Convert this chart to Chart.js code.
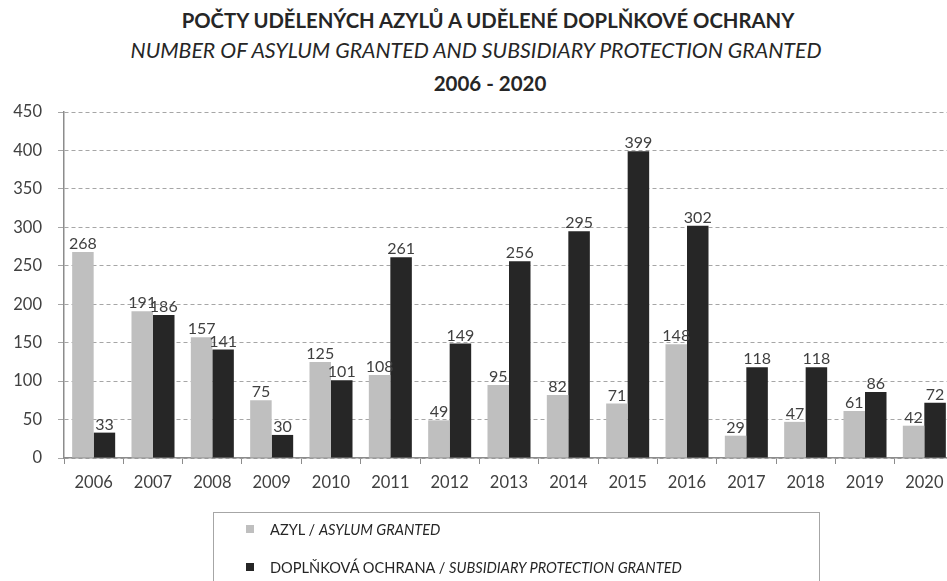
<!DOCTYPE html>
<html>
<head>
<meta charset="utf-8">
<script src="https://cdn.jsdelivr.net/npm/chart.js@4/dist/chart.umd.min.js"></script>
<style>
  html, body { margin: 0; padding: 0; background: #fff; overflow: hidden; }
  body { width: 947px; height: 581px; position: relative; font-family: Lato, "Open Sans", sans-serif; color: #262626; }
  #wrap { position: absolute; left: 0; top: 0; width: 960px; height: 581px; }
  #wrap canvas { display: block; }
  .title { position: absolute; width: 960px; text-align: center; white-space: nowrap; line-height: 1; }
  #t1 { top: 10px; font-size: 20.3px; font-weight: bold; left: 8px; }
  #t2 { top: 40px; font-size: 21.3px; font-style: italic; left: -4px; }
  #t3 { top: 73px; font-size: 20.5px; font-weight: bold; left: 10px; }
  #legend { position: absolute; left: 213px; top: 512px; width: 607px; height: 80px; border: 1px solid #a6a6a6; box-sizing: border-box; }
  .item { position: absolute; left: 32px; font-size: 14.6px; white-space: nowrap; color: #262626; }
  .item span.box { display: inline-block; width: 8px; height: 8px; margin-right: 16px; vertical-align: 2px; }
</style>
</head>
<body>
<div class="title" id="t1">POČTY UDĚLENÝCH AZYLŮ A UDĚLENÉ DOPLŇKOVÉ OCHRANY</div>
<div class="title" id="t2">NUMBER OF ASYLUM GRANTED AND SUBSIDIARY PROTECTION GRANTED</div>
<div class="title" id="t3">2006 - 2020</div>
<div id="wrap"><canvas id="asylumChart" width="960" height="581"></canvas></div>
<div id="legend"></div>
<script>
/* data */
const years = ["2006", "2007", "2008", "2009", "2010", "2011", "2012", "2013",
  "2014", "2015", "2016", "2017", "2018", "2019", "2020"];
const asylumGranted = [268, 191, 157, 75, 125, 108, 49, 95, 82, 71, 148, 29, 47, 61, 42];
const subsidiaryGranted = [33, 186, 141, 30, 101, 261, 149, 256, 295, 399, 302, 118, 118, 86, 72];
const yTicks = [0, 50, 100, 150, 200, 250, 300, 350, 400, 450];

const legendNames = [
  ["AZYL / ", "ASYLUM GRANTED"],
  ["DOPLŇKOVÁ OCHRANA / ", "SUBSIDIARY PROTECTION GRANTED"]
];

const lightGray = "#bfbfbf";
const darkGray = "#262626";

/* value labels above bars */
const valueLabels = {
  id: "valueLabels",
  afterDatasetsDraw(chart) {
    const ctx = chart.ctx;
    ctx.save();
    ctx.font = "16px Lato, 'Open Sans', sans-serif";
    ctx.fillStyle = "#404040";
    ctx.textAlign = "center";
    ctx.textBaseline = "bottom";
    chart.data.datasets.forEach((ds, i) => {
      chart.getDatasetMeta(i).data.forEach((bar, j) => {
        ctx.fillText(ds.data[j], bar.x, bar.y);
      });
    });
    ctx.restore();
  }
};

const chart = new Chart(document.querySelector("#asylumChart"), {
  type: "bar",
  data: {
    labels: years,
    datasets: [
      {
        label: legendNames[0].join(""),
        data: asylumGranted,
        backgroundColor: lightGray,
        categoryPercentage: 0.725,
        barPercentage: 1
      },
      {
        label: legendNames[1].join(""),
        data: subsidiaryGranted,
        backgroundColor: darkGray,
        categoryPercentage: 0.725,
        barPercentage: 1
      }
    ]
  },
  options: {
    responsive: false,
    animation: false,
    layout: {
      padding: { top: 112, right: 6, bottom: 83, left: 0 }
    },
    plugins: {
      legend: { display: false },
      title: { display: false },
      tooltip: { enabled: false }
    },
    scales: {
      x: {
        grid: {
          display: true,
          drawOnChartArea: false,
          drawTicks: true,
          offset: true,
          tickLength: 6,
          tickColor: "#8c8c8c"
        },
        border: { display: true, color: "#8c8c8c", width: 1.5 },
        ticks: {
          color: "#404040",
          font: { family: "Lato, 'Open Sans', sans-serif", size: 16.5 },
          padding: 9,
          maxRotation: 0,
          autoSkip: false
        },
        afterFit: scale => { scale.height = 40; }
      },
      y: {
        min: 0,
        max: 450,
        afterBuildTicks: scale => {
          scale.ticks = yTicks.map(v => ({ value: v }));
        },
        grid: {
          color: "#a6a6a6",
          tickLength: 6,
          tickColor: "#a6a6a6"
        },
        border: { display: true, color: "#8c8c8c", width: 1.5, dash: [4, 3] },
        ticks: {
          color: "#404040",
          font: { family: "Lato, 'Open Sans', sans-serif", size: 16.5 },
          padding: 16
        },
        afterFit: scale => { scale.width = 64; }
      }
    }
  },
  plugins: [valueLabels]
});

/* legend */
const legendEl = document.querySelector("#legend");
chart.data.datasets.forEach((ds, i) => {
  const item = document.createElement("div");
  item.className = "item";
  item.style.top = (i === 0 ? 8 : 46) + "px";
  item.innerHTML = `<span class="box" style="background:${ds.backgroundColor}"></span>${legendNames[i][0]}<i>${legendNames[i][1]}</i>`;
  legendEl.appendChild(item);
});
</script>
</body>
</html>
